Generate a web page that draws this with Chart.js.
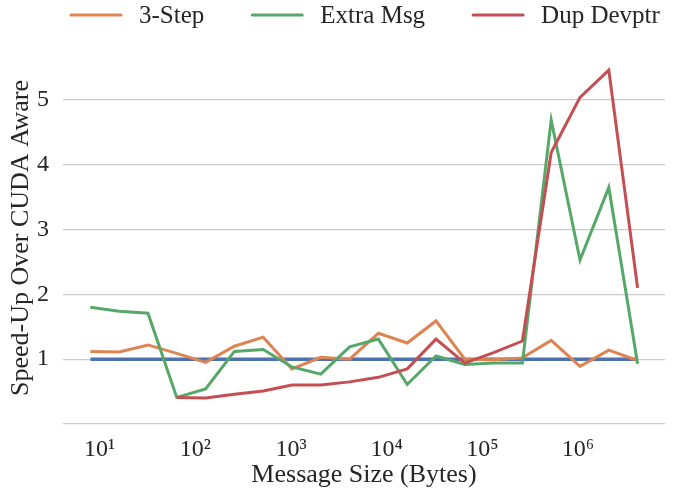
<!DOCTYPE html>
<html>
<head>
<meta charset="utf-8">
<script src="https://cdn.jsdelivr.net/npm/chart.js@4"></script>
<style>
  html, body { margin: 0; padding: 0; background: #fff; }
  #wrap { width: 679px; height: 493px; }
</style>
</head>
<body>
<div id="wrap"><canvas id="chart"></canvas></div>
<script>
// message sizes in bytes, 8 B .. 4 MiB
const MESSAGE_SIZES = [8, 16, 32, 64, 128, 256, 512, 1024, 2048, 4096, 8192, 16384,
  32768, 65536, 131072, 262144, 524288, 1048576, 2097152, 4194304];

const BASELINE = [1, 1, 1, 1, 1, 1, 1, 1, 1, 1, 1, 1, 1, 1, 1, 1, 1, 1, 1, 1];
const THREE_STEP = [1.12, 1.11, 1.22, 1.09, 0.95, 1.20, 1.34, 0.85, 1.03, 1.00,
  1.40, 1.25, 1.59, 1.00, 0.99, 1.02, 1.29, 0.89, 1.14, 0.98];
const EXTRA_MSG = [1.80, 1.74, 1.71, 0.41, 0.54, 1.12, 1.15, 0.88, 0.77, 1.19,
  1.31, 0.61, 1.05, 0.92, 0.94, 0.94, 4.69, 2.53, 3.65, 0.93];
const DUP_DEVPTR = [null, null, null, 0.41, 0.40, 0.46, 0.51, 0.60, 0.60, 0.65,
  0.72, 0.85, 1.31, 0.94, 1.10, 1.28, 4.19, 5.04, 5.46, 2.10];

const X_TICKS = [10, 100, 1000, 10000, 100000, 1000000];
const Y_TICKS = [0, 1, 2, 3, 4, 5];

const FONT = '"Liberation Serif", "DejaVu Serif", serif';
const TEXT = '#262626';
const SUP = { '0': '\u2070', '1': '\u00b9', '2': '\u00b2', '3': '\u00b3', '4': '\u2074',
  '5': '\u2075', '6': '\u2076', '7': '\u2077', '8': '\u2078', '9': '\u2079' };

const series = [
  { label: '3-Step', color: '#dd8452', values: THREE_STEP },
  { label: 'Extra Msg', color: '#55a868', values: EXTRA_MSG },
  { label: 'Dup Devptr', color: '#c44e52', values: DUP_DEVPTR },
];

const toPoints = (vals) => MESSAGE_SIZES.map((s, i) => ({ x: s, y: vals[i] }));

// red on top, baseline at the bottom (dataset 0 is drawn last)
const datasets = series.slice().reverse().map(s => ({
  label: s.label,
  data: toPoints(s.values),
  borderColor: s.color,
  backgroundColor: s.color,
  borderWidth: 3,
  pointRadius: 0,
  tension: 0,
  spanGaps: false,
}));
datasets.push({
  label: 'baseline',
  data: toPoints(BASELINE),
  borderColor: '#4c72b0',
  backgroundColor: '#4c72b0',
  borderWidth: 3.5,
  pointRadius: 0,
});

// legend across the top, like the matplotlib one
const topLegend = {
  id: 'topLegend',
  afterDraw(chart) {
    const ctx = chart.ctx;
    ctx.save();
    ctx.font = '25px ' + FONT;
    ctx.textBaseline = 'middle';
    let x = 71;
    const y = 15;
    for (const s of series) {
      ctx.strokeStyle = s.color;
      ctx.lineWidth = 3;
      ctx.lineCap = 'round';
      ctx.beginPath();
      ctx.moveTo(x, y);
      ctx.lineTo(x + 50, y);
      ctx.stroke();
      ctx.fillStyle = TEXT;
      ctx.fillText(s.label, x + 68, y + 1);
      x += 68 + ctx.measureText(s.label).width + 48;
    }
    ctx.restore();
  }
};

new Chart(document.getElementById('chart').getContext('2d'), {
  type: 'line',
  data: { datasets },
  plugins: [topLegend],
  options: {
    responsive: true,
    maintainAspectRatio: false,
    animation: false,
    layout: { padding: { top: 52, right: 14, left: 0, bottom: 0 } },
    plugins: {
      legend: { display: false },
      tooltip: { enabled: false },
    },
    scales: {
      x: {
        type: 'logarithmic',
        min: Math.pow(10, 0.617),
        max: Math.pow(10, 6.909),
        afterBuildTicks: (scale) => { scale.ticks = X_TICKS.map(v => ({ value: v })); },
        afterFit: (scale) => { scale.height = 69; },
        grid: { display: false },
        border: { display: false },
        ticks: {
          color: TEXT,
          font: { family: FONT, size: 24 },
          padding: 3,
          maxRotation: 0,
          autoSkip: false,
          callback: (v) => '10' + String(Math.round(Math.log10(v))).split('').map(c => SUP[c]).join(''),
        },
        title: {
          display: true,
          text: 'Message Size (Bytes)',
          color: TEXT,
          font: { family: FONT, size: 26 },
          padding: { top: 0, bottom: 2 },
        },
      },
      y: {
        min: 0,
        max: 5.74,
        afterBuildTicks: (scale) => { scale.ticks = Y_TICKS.map(v => ({ value: v })); },
        afterFit: (scale) => { scale.width = 63; },
        grid: { color: '#cccccc', lineWidth: 1.2, drawTicks: false },
        border: { display: false },
        ticks: {
          color: TEXT,
          font: { family: FONT, size: 24 },
          padding: 14,
          callback: (v) => (v === 0 ? '' : String(v)),
        },
        title: {
          display: true,
          text: 'Speed-Up Over CUDA Aware',
          color: TEXT,
          font: { family: FONT, size: 26 },
          padding: { top: 6, bottom: 0 },
        },
      },
    },
  },
});
</script>
</body>
</html>
